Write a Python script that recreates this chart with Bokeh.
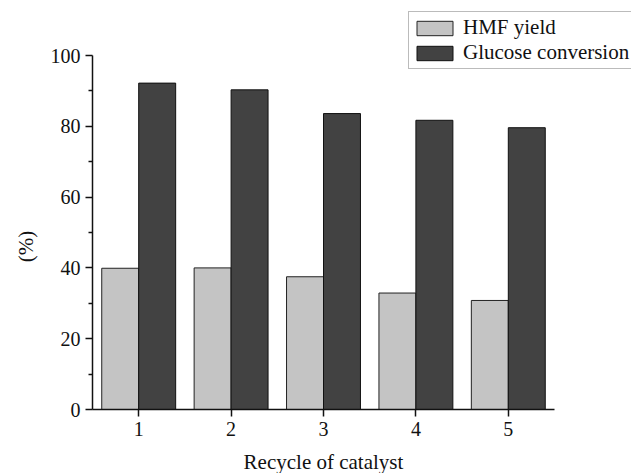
import math
from bokeh.plotting import figure
from bokeh.models import (ColumnDataSource, Legend, LegendItem, FixedTicker, Range1d,
                          Label, LinearAxis)
from bokeh.embed import file_html
from bokeh.resources import INLINE

cycles = [1, 2, 3, 4, 5]
cycle_labels = ["1", "2", "3", "4", "5"]
hmf_yield = [39.9, 40.0, 37.5, 32.9, 30.8]
glucose_conversion = [92.2, 90.3, 83.6, 81.7, 79.6]
y_ticks = [0, 20, 40, 60, 80, 100]
y_minor = [10, 30, 50, 70, 90]
series_names = ["HMF yield", "Glucose conversion"]

FONT = "Liberation Serif"
W, H = 631, 473
# plot-area placement in pixels (axes drawn at fixed locations)
AX_L, AX_R, AX_T, AX_B = 92, 554, 55, 409
X0, X1, Y0, Y1 = 0.5, 5.5, 0, 100
sx = (AX_R - AX_L) / (X1 - X0)
sy = (AX_B - AX_T) / (Y1 - Y0)
x_range = Range1d(X0 - AX_L / sx, X1 + (W - AX_R) / sx)
y_range = Range1d(Y0 - (H - AX_B) / sy, Y1 + AX_T / sy)

src = ColumnDataSource(dict(
    x_hmf=[c - 0.2 for c in cycles],
    x_glu=[c + 0.2 for c in cycles],
    hmf=hmf_yield,
    glu=glucose_conversion,
))

p = figure(width=W, height=H, output_backend="svg", toolbar_location=None,
           x_range=x_range, y_range=y_range,
           x_axis_location=None, y_axis_location=None,
           min_border=0, min_border_left=0, min_border_right=0,
           min_border_top=0, min_border_bottom=0)
p.outline_line_color = None
p.grid.visible = False
p.background_fill_color = "white"
p.border_fill_color = "white"

r1 = p.vbar(x="x_hmf", top="hmf", width=0.4, source=src,
            fill_color="#c4c4c4", line_color="#222222", line_width=1)
r2 = p.vbar(x="x_glu", top="glu", width=0.4, source=src,
            fill_color="#424242", line_color="#111111", line_width=1)

xa = LinearAxis(fixed_location=Y0, bounds=(X0, X1))
xa.ticker = FixedTicker(ticks=cycles)
xa.major_label_overrides = {c: l for c, l in zip(cycles, cycle_labels)}
xa.axis_label = "Recycle of catalyst"

ya = LinearAxis(fixed_location=X0, bounds=(Y0, Y1))
ya.ticker = FixedTicker(ticks=y_ticks, minor_ticks=y_minor)

for ax in (xa, ya):
    ax.axis_line_color = "#111111"
    ax.axis_line_width = 1.5
    ax.major_tick_line_color = "#111111"
    ax.major_tick_line_width = 1.5
    ax.major_tick_in = 0
    ax.major_tick_out = 7
    ax.minor_tick_in = 0
    ax.minor_tick_out = 4
    ax.major_label_text_font = FONT
    ax.major_label_text_font_size = "20px"
    ax.major_label_text_color = "#111111"
    ax.axis_label_text_font = FONT
    ax.axis_label_text_font_size = "21px"
    ax.axis_label_text_font_style = "normal"
    ax.axis_label_text_color = "#111111"

xa.minor_tick_line_color = None
ya.minor_tick_line_color = "#111111"
ya.minor_tick_line_width = 1.5
xa.major_label_standoff = 5
xa.axis_label_standoff = 11
ya.major_label_standoff = 5

p.add_layout(xa, "below")
p.add_layout(ya, "left")

ylab = Label(x=25, y=H - 246, x_units="screen", y_units="screen", text="(%)",
             angle=math.pi / 2, text_align="center", text_baseline="middle",
             text_font=FONT, text_font_size="21px", text_color="#111111")
p.add_layout(ylab)

legend = Legend(items=[LegendItem(label=series_names[0], renderers=[r1]),
                       LegendItem(label=series_names[1], renderers=[r2])],
                location=(408, H - 69))
legend.label_text_font = FONT
legend.label_text_font_style = "normal"
legend.label_text_font_size = "21px"
legend.label_text_color = "#111111"
legend.glyph_width = 45
legend.glyph_height = 18
legend.label_height = 18
legend.label_standoff = 6
legend.spacing = 0
legend.padding = 3
legend.margin = 0
legend.border_line_color = "#777777"
legend.border_line_width = 1.2
legend.background_fill_color = "white"
legend.background_fill_alpha = 1
p.add_layout(legend, "center")

open("out.html", "w").write(file_html(p, INLINE))
